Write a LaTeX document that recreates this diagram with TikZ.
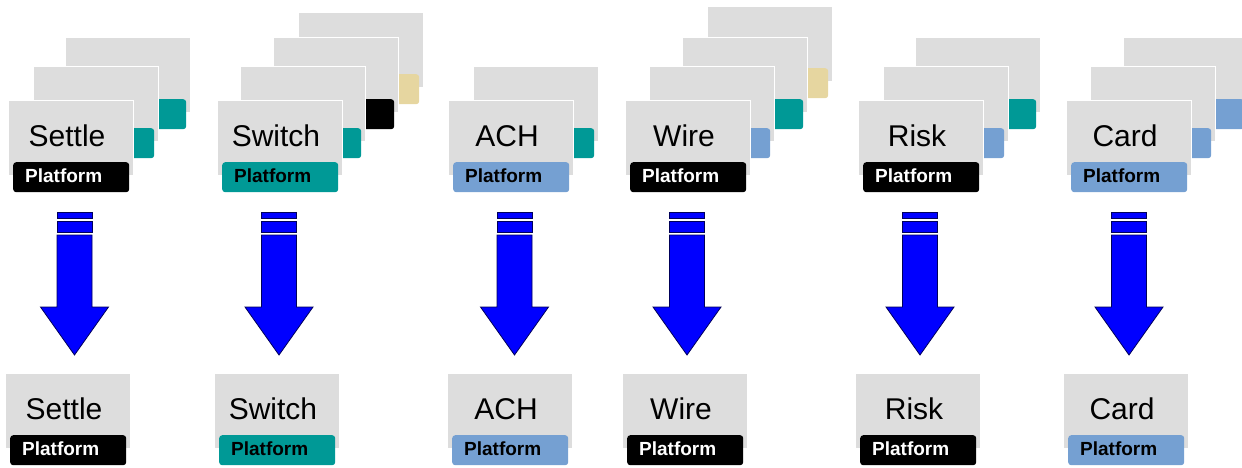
\documentclass[tikz,border=0pt]{standalone}
\usepackage{fontspec}
\setmainfont{Liberation Sans}
\definecolor{cardgray}{RGB}{221,221,221}
\definecolor{teal}{RGB}{0,153,150}
\definecolor{skyblue}{RGB}{117,160,210}
\definecolor{tan}{RGB}{230,214,160}
\definecolor{arrowblue}{RGB}{0,0,255}
\definecolor{arrowline}{RGB}{0,0,90}
\tikzset{
	card/.style={draw=white, line width=1pt, fill=cardgray, minimum width=125pt, minimum height=75pt, inner sep=0pt, anchor=north west},
	tag/.style={rounded corners=3pt, inner xsep=12pt, inner ysep=0pt, text width=92pt, minimum height=30pt, align=left, anchor=north west, text height=10pt, text depth=0pt, font=\fontsize{19}{22}\selectfont\bfseries},
	cardname/.style={anchor=base, font=\fontsize{30}{36}\selectfont},
	arrowbody/.style={fill=arrowblue, draw=arrowline, line width=0.8pt},
	pics/platcard/.style n args={3}{code={
		\node[card] (-body) {};
		\node[tag, fill=#1, text=#2] (-tag) at ([xshift=5pt,yshift=-62pt]-body.north west) {Platform};
		\node[cardname] (-name) at ([xshift=-4pt,yshift=-46pt]-body.north) {#3};
	}},
	pics/backcard/.style={code={
		\node[card] (-body) {};
		\node[tag, fill=#1] (-tag) at ([xshift=5pt,yshift=-62pt]-body.north west) {};
	}},
	pics/downarrow/.style={code={
		\draw[arrowbody] (-17.5,0) rectangle (17.5,6);
		\draw[arrowbody] (-17.5,9) rectangle (17.5,20);
		\draw[arrowbody] (-17.5,23) -- (17.5,23) -- (17.5,95) -- (34,95) -- (0,143) -- (-34,95) -- (-17.5,95) -- cycle;
	}}
}
\begin{document}
\begin{tikzpicture}[x=1pt, y=-1pt]
	\useasboundingbox (0,0) rectangle (1242,467);
	\clip (0,0) rectangle (1242,467);
	% settle
	\pic (settle-back2) at (65,37) {backcard=teal};
	\pic (settle-back1) at (33,66) {backcard=teal};
	\pic (settle) at (8,100) {platcard={black}{white}{Settle}};
	% switch
	\pic (switch-back3) at (298,12) {backcard=tan};
	\pic (switch-back2) at (273,37) {backcard=black};
	\pic (switch-back1) at (240,66) {backcard=teal};
	\pic (switch) at (217,100) {platcard={teal}{black}{Switch}};
	% ach
	\pic (ach-back1) at (473,66) {backcard=teal};
	\pic (ach) at (448,100) {platcard={skyblue}{black}{ACH}};
	% wire
	\pic (wire-back3) at (707,6) {backcard=tan};
	\pic (wire-back2) at (682,37) {backcard=teal};
	\pic (wire-back1) at (649,66) {backcard=skyblue};
	\pic (wire) at (625,100) {platcard={black}{white}{Wire}};
	% risk
	\pic (risk-back2) at (915,37) {backcard=teal};
	\pic (risk-back1) at (883,66) {backcard=skyblue};
	\pic (risk) at (858,100) {platcard={black}{white}{Risk}};
	% card
	\pic (card-back2) at (1123,37) {backcard=skyblue};
	\pic (card-back1) at (1090,66) {backcard=skyblue};
	\pic (card) at (1066,100) {platcard={skyblue}{black}{Card}};

	% arrows
	\pic (settle-arrow) at (74.5,212) {downarrow};
	\pic (switch-arrow) at (279,212) {downarrow};
	\pic (ach-arrow) at (514.5,212) {downarrow};
	\pic (wire-arrow) at (687,212) {downarrow};
	\pic (risk-arrow) at (920,212) {downarrow};
	\pic (card-arrow) at (1129,212) {downarrow};

	% single platforms
	\pic (settle-out) at (5,373) {platcard={black}{white}{Settle}};
	\pic (switch-out) at (214,373) {platcard={teal}{black}{Switch}};
	\pic (ach-out) at (447,373) {platcard={skyblue}{black}{ACH}};
	\pic (wire-out) at (622,373) {platcard={black}{white}{Wire}};
	\pic (risk-out) at (855,373) {platcard={black}{white}{Risk}};
	\pic (card-out) at (1063,373) {platcard={skyblue}{black}{Card}};
\end{tikzpicture}
\end{document}
